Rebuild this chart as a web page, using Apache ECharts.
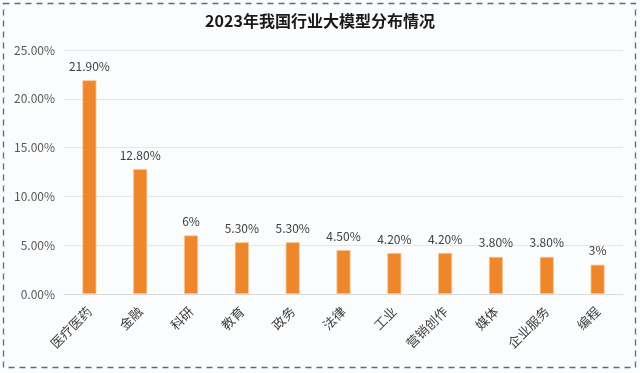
<!DOCTYPE html>
<html><head><meta charset="utf-8">
<script src="https://cdn.jsdelivr.net/npm/echarts@6/dist/echarts.min.js"></script>
<style>html,body{margin:0;padding:0;background:#fff}#c{width:640px;height:373px}</style>
</head><body><div id="c"></div>
<script>
var title = '2023年我国行业大模型分布情况';
var categories = ['医疗医药','金融','科研','教育','政务','法律','工业','营销创作','媒体','企业服务','编程'];
var values = [21.9, 12.8, 6, 5.3, 5.3, 4.5, 4.2, 4.2, 3.8, 3.8, 3];
var valueLabels = ['21.90%','12.80%','6%','5.30%','5.30%','4.50%','4.20%','4.20%','3.80%','3.80%','3%'];
var yTicks = [0, 5, 10, 15, 20, 25];

var chart = echarts.init(document.getElementById('c'));
chart.setOption({
  backgroundColor: '#fbfcfd',
  animation: false,
  graphic: [{type:'rect', shape:{x:3.5,y:3.5,width:632,height:364}, style:{fill:null, stroke:'#4f6f80', lineWidth:1.3, lineDash:[6,5]}}],
  title: {text: title, left: 'center', top: 8, textStyle:{fontFamily:'Noto Sans CJK SC', fontSize:16, fontWeight:'bold', color:'#1a1a1a'}},
  grid: {left: 64, right: 17, top: 50, bottom: 79},
  xAxis: {type:'category', data: categories,
    axisLine:{lineStyle:{color:'#d9d9d9'}}, axisTick:{show:false},
    axisLabel:{rotate:45, interval:0, color:'#404040', fontSize:13, fontFamily:'Noto Sans CJK SC', margin:15}},
  yAxis: {type:'value', min:0, max:25, interval:5,
    axisLine:{show:false}, axisTick:{show:false},
    splitLine:{lineStyle:{color:'#e6e6e6'}},
    axisLabel:{color:'#595959', fontSize:12, fontFamily:'Noto Sans CJK SC', margin:9,
      formatter: function(v){ return v.toFixed(2) + '%'; }}},
  series: [{type:'bar', data: values, barWidth: 14,
    itemStyle:{color:'#ee862c', borderColor:'#f7c48e', borderWidth:0.8},
    label:{show:true, position:'top', distance:8, color:'#404040', fontSize:12, fontFamily:'Noto Sans CJK SC',
      formatter: function(p){ return valueLabels[p.dataIndex]; }}}]
});
</script></body></html>
